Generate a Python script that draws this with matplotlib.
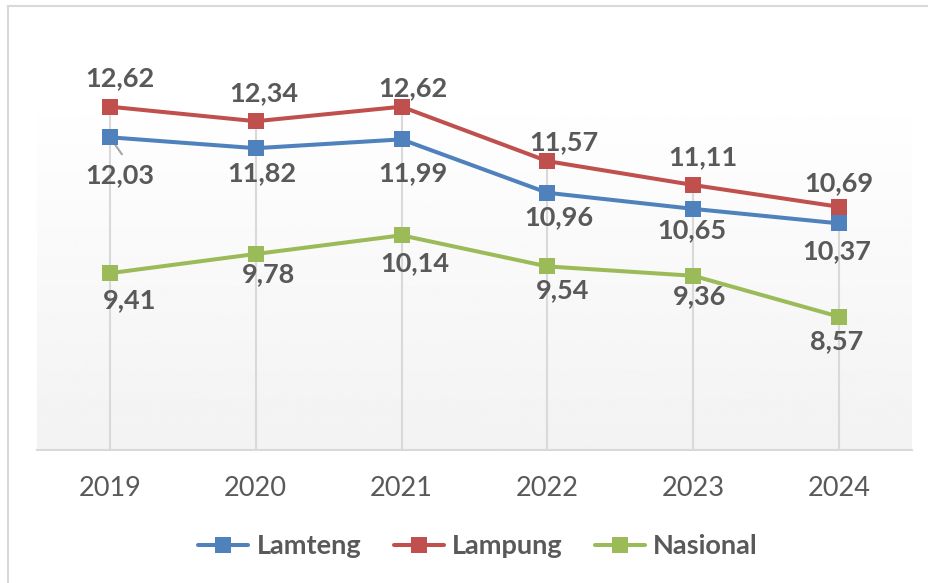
import numpy as np
import matplotlib
matplotlib.use("Agg")
import matplotlib.pyplot as plt
from matplotlib.lines import Line2D

#------------- data -------------#
years = ["2019", "2020", "2021", "2022", "2023", "2024"]
lamteng = [12.03, 11.82, 11.99, 10.96, 10.65, 10.37]
lampung = [12.62, 12.34, 12.62, 11.57, 11.11, 10.69]
nasional = [9.41, 9.78, 10.14, 9.54, 9.36, 8.57]

# label offsets in pixels (dx, dy up)
off_lampung = [(10, 29), (8, 28), (11, 19), (16, 19), (10, 28), (0, 24)]
off_lamteng = [(10, -38), (6, -25), (11, -34), (11, -24), (-1, -21), (-2, -28)]
off_nasional = [(20, -27), (13, -20), (13, -28), (15, -24), (6, -20), (-2, -24)]

blue = "#4F81BD"
red = "#C0504D"
green = "#9BBB59"
txt = "#595959"

plt.rcParams["font.family"] = ["Lato", "DejaVu Sans"]

fig = plt.figure(figsize=(9.29, 5.83), dpi=100)
ax = fig.add_axes([37 / 929, 1 - 450 / 583, 875 / 929, 363 / 583])

x = np.arange(len(years))
ax.set_xlim(-0.5, len(years) - 0.5)
ax.set_ylim(6, 13)

# gradient background of the plot area
grad = np.linspace(0.95, 1.0, 256).reshape(-1, 1)
ax.imshow(grad, extent=[0, 1, 0, 1], transform=ax.transAxes, cmap="gray",
          vmin=0, vmax=1, aspect="auto", origin="lower", zorder=0)

# drop lines
ax.vlines(x, 6, lampung, color="#d9d9d9", lw=1.5, zorder=1)

series = [("Lamteng", lamteng, blue, off_lamteng),
          ("Lampung", lampung, red, off_lampung),
          ("Nasional", nasional, green, off_nasional)]

for name, vals, col, offs in series:
    ax.plot(x, vals, color=col, lw=2.9, marker="s", markersize=11,
            markeredgewidth=0, zorder=3, label=name, solid_capstyle="round")
    for xi, v, (dx, dy) in zip(x, vals, offs):
        ax.annotate(f"{v:.2f}".replace(".", ","), (xi, v),
                    xytext=(dx * 0.72, dy * 0.72), textcoords="offset points",
                    ha="center", va="center", fontsize=19.5, fontweight="bold",
                    color=txt, zorder=4)

# small leader line at first Lamteng label
ax.annotate("", xy=(0, lamteng[0]), xytext=(12 * 0.72, -17 * 0.72),
            textcoords="offset points",
            arrowprops=dict(arrowstyle="-", color="#a6a6a6", lw=1.5, shrinkA=0, shrinkB=0),
            zorder=2)

ax.set_xticks(x)
ax.set_xticklabels(years, fontsize=19.5, color=txt)
ax.tick_params(axis="x", length=0, pad=19)
ax.set_yticks([])
for s in ["top", "left", "right"]:
    ax.spines[s].set_visible(False)
ax.spines["bottom"].set_color("#d9d9d9")
ax.spines["bottom"].set_linewidth(1.5)

handles = [Line2D([], [], color=c, lw=2.9, marker="s", markersize=11,
                  markeredgewidth=0, solid_capstyle="round") for _, _, c, _ in series]
leg = fig.legend(handles, [s[0] for s in series], loc="center",
                 bbox_to_anchor=(478 / 929, 1 - 546 / 583), ncol=3, frameon=False,
                 handlelength=1.85, handletextpad=0.3, columnspacing=1.2,
                 prop={"size": 19.5, "weight": "bold"})
for t in leg.get_texts():
    t.set_color(txt)

# outer frame (top and left edges visible in the reference)
fig.add_artist(Line2D([8 / 929, 8 / 929], [0, 1 - 6 / 583], color="#d9d9d9", lw=1.5,
                      transform=fig.transFigure))
fig.add_artist(Line2D([8 / 929, 1], [1 - 6 / 583, 1 - 6 / 583], color="#d9d9d9", lw=1.5,
                      transform=fig.transFigure))

fig.savefig("out.png", dpi=100, facecolor="white")
